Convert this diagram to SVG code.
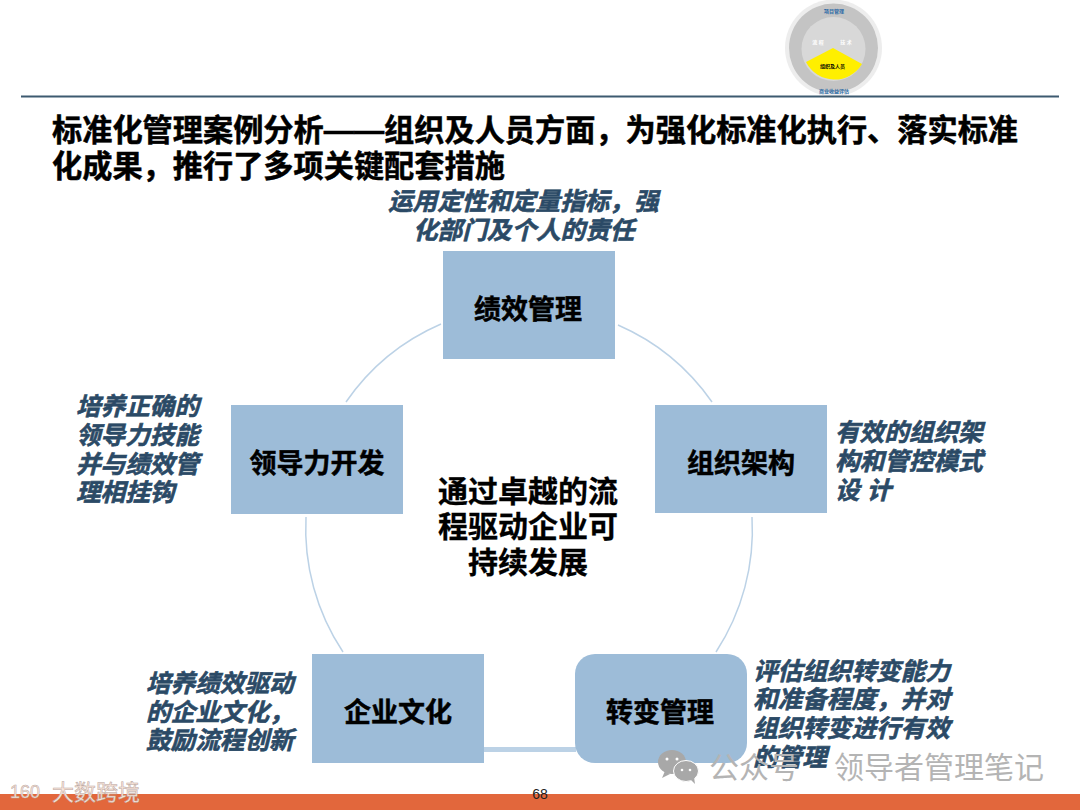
<svg xmlns="http://www.w3.org/2000/svg" width="1080" height="810" viewBox="0 0 1080 810">
<style>
text{font-family:"Liberation Sans","Noto Sans CJK SC",sans-serif;font-weight:700}
.box{fill:#9dbcd8}
.nt{font-size:27px;fill:#000;stroke:#000;stroke-width:.5;text-anchor:middle}
.it{font-size:24.600px;fill:#2b4a66;stroke:#2b4a66;stroke-width:.6;font-style:italic}
.ti{font-size:30.200px;fill:#000;stroke:#000;stroke-width:.5}
.ce{font-size:30px;fill:#000;stroke:#000;stroke-width:.3;text-anchor:middle}
.arc{fill:none;stroke:#bcd2e6;stroke-width:1.5}
.wm{font-family:"Noto Sans CJK SC",sans-serif;font-weight:400;font-size:30px;fill:#b4b4b4}
.th{font-size:5px;text-anchor:middle}
.lg{font-weight:400;fill:#fbe6dc;stroke:#b9a79f;stroke-width:.5}
</style>
<rect width="1080" height="810" fill="#fff"/>
<g id="thumbnail">
<circle cx="833.500" cy="48" r="48.500" fill="#ededed"/>
<circle cx="833.500" cy="48" r="44.500" fill="#c4c4c4"/>
<circle cx="833.500" cy="49" r="32" fill="#d8d8d8"/>
<path d="M806 62L833 48L862 64A32 32 0 0 1 806 62Z" fill="#ffef00"/>
<text class="th" x="834" y="13" fill="#2d6aa6">项目管理</text>
<text class="th" x="818" y="44" fill="#fff">流 程</text>
<text class="th" x="846" y="44" fill="#fff">技 术</text>
<text class="th" x="832.500" y="68" fill="#000">组织及人员</text>
<text class="th" x="834" y="93" fill="#2d6aa6">商业收益评估</text>
</g>
<rect id="rule" x="21" y="95.500" width="1038" height="2" fill="#3d5a70"/>
<g id="title">
<text class="ti" x="52" y="141">标准化管理案例分析——组织及人员方面，为强化标准化执行、落实标准</text>
<text class="ti" x="52" y="177">化成果，推行了多项关键配套措施</text>
</g>
<g id="connectors">
<path class="arc" d="M618 325A223 223 0 0 1 712 402"/>
<path class="arc" d="M752 517A223 223 0 0 1 716 652"/>
<path class="arc" d="M343 652A223 223 0 0 1 306 517"/>
<path class="arc" d="M346 402A223 223 0 0 1 441 324"/>
<path d="M484 749.500H576" fill="none" stroke="#bcd2e6" stroke-width="5"/>
</g>
<g id="node-performance">
<rect class="box" x="443" y="251" width="172" height="108"/>
<text class="nt" x="528" y="319">绩效管理</text>
<text class="it" x="388" y="210">运用定性和定量指标，强</text>
<text class="it" x="413" y="239">化部门及个人的责任</text>
</g>
<g id="node-organization">
<rect class="box" x="655" y="405" width="172" height="108"/>
<text class="nt" x="741" y="473">组织架构</text>
<text class="it" x="835" y="441">有效的组织架</text>
<text class="it" x="835" y="470">构和管控模式</text>
<text class="it" x="835" y="499">设 计</text>
</g>
<g id="node-change">
<rect class="box" x="575" y="654" width="172" height="109" rx="20"/>
<text class="nt" x="660" y="722">转变管理</text>
<text class="it" x="753" y="680">评估组织转变能力</text>
<text class="it" x="753" y="708">和准备程度，并对</text>
<text class="it" x="753" y="737">组织转变进行有效</text>
<text class="it" x="753" y="766">的管理</text>
</g>
<g id="node-culture">
<rect class="box" x="312" y="654" width="172" height="109"/>
<text class="nt" x="398" y="722">企业文化</text>
<text class="it" x="146" y="692">培养绩效驱动</text>
<text class="it" x="146" y="721">的企业文化，</text>
<text class="it" x="146" y="749">鼓励流程创新</text>
</g>
<g id="node-leadership">
<rect class="box" x="231" y="405" width="172" height="109"/>
<text class="nt" x="317" y="473">领导力开发</text>
<text class="it" x="76" y="415">培养正确的</text>
<text class="it" x="76" y="444">领导力技能</text>
<text class="it" x="76" y="473">并与绩效管</text>
<text class="it" x="76" y="501">理相挂钩</text>
</g>
<g id="center">
<text class="ce" x="528" y="502">通过卓越的流</text>
<text class="ce" x="528" y="537">程驱动企业可</text>
<text class="ce" x="528" y="573">持续发展</text>
</g>
<rect id="footer" x="0" y="794" width="1080" height="16" fill="#e2673c"/>
<text x="540" y="799" font-size="14" fill="#222" text-anchor="middle" style="font-weight:400">68</text>
<g id="watermarks">
<g fill="#a8a8a8">
<ellipse cx="672" cy="762" rx="14" ry="12"/>
<path d="M665 771l-3 7 8-4z"/>
<ellipse cx="686" cy="771" rx="12.500" ry="10.500" stroke="#fff"/>
<path d="M690 779l5 5-1-7z"/>
</g>
<g fill="#fff"><circle cx="667" cy="759" r="1.500"/><circle cx="677" cy="759" r="1.500"/><circle cx="682" cy="770" r="1.300"/><circle cx="690" cy="770" r="1.300"/></g>
<text class="wm" x="709" y="778">公众号</text>
<text class="wm" x="834" y="778">领导者管理笔记</text>
<text class="lg" x="52" y="800" font-size="22">大数跨境</text>
<text class="lg" x="10" y="798" font-size="18">160</text>
</g>
</svg>
